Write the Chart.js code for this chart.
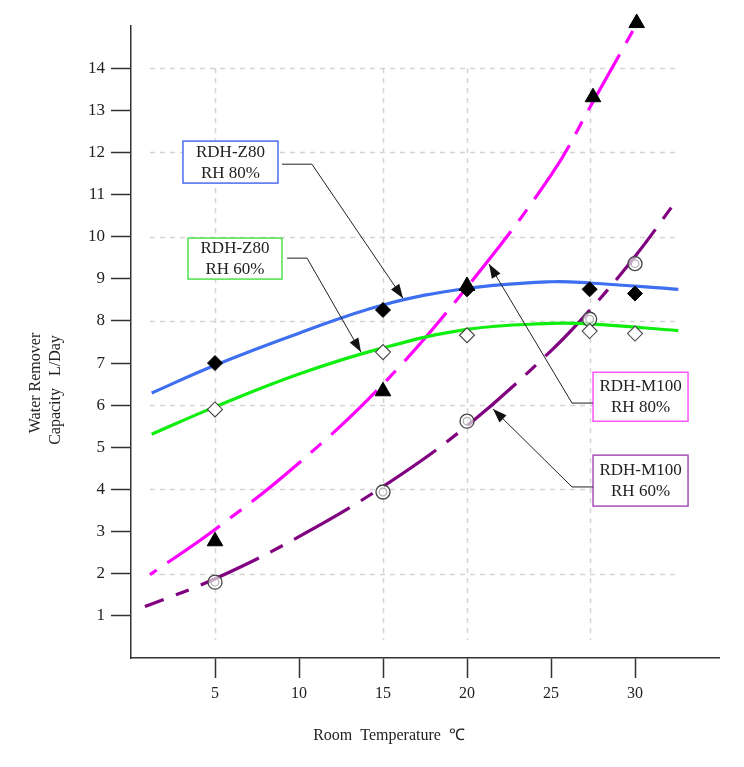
<!DOCTYPE html>
<html>
<head>
<meta charset="utf-8">
<script src="https://cdn.jsdelivr.net/npm/chart.js@4/dist/chart.umd.min.js"></script>
<style>
  html, body { margin: 0; padding: 0; background: #ffffff; }
</style>
</head>
<body>
<canvas id="chart" width="744" height="767"></canvas>
<script>
// Measured points (room temperature °C -> capacity L/day)
const tempZ80 = [5, 15, 20, 27.3, 30];
const z80Rh80 = [7.0, 8.26, 8.75, 8.75, 8.65];
const z80Rh60 = [5.9, 7.26, 7.66, 7.76, 7.7];
const tempM100Rh80 = [5, 15, 20, 27.5, 30.1];
const m100Rh80 = [2.77, 6.33, 8.83, 13.31, 15.07];
const tempM100Rh60 = [5, 15, 20, 27.3, 30];
const m100Rh60 = [1.8, 3.94, 5.62, 8.04, 9.36];

// Fitted curves
const fitZ80Temp = [1.23, 5, 10, 15, 20, 25, 27.3, 32.58];
const fitZ80Rh80 = [6.29, 6.95, 7.71, 8.38, 8.77, 8.93, 8.9, 8.75];
const fitZ80Rh60 = [5.31, 5.96, 6.74, 7.36, 7.8, 7.94, 7.93, 7.77];
const fitM100Rh80Temp = [1.13, 5, 10, 15, 20, 25, 27.5, 30.06];
const fitM100Rh80 = [1.98, 3.05, 4.63, 6.5, 8.8, 11.46, 13.2, 15.02];
const fitM100Rh60Temp = [0.83, 5, 10, 15, 20, 25, 27.3, 30, 32.34];
const fitM100Rh60 = [1.22, 1.88, 2.88, 4.07, 5.51, 7.29, 8.25, 9.53, 10.79];

// Dashed reference grid
const gridTemps = [5, 15, 20, 27.3];
const gridCaps = [2, 4, 6, 8, 10, 12, 14];

const FONT = '"Liberation Serif", "Times New Roman", serif';

const toXY = (xs, ys) => xs.map((x, i) => ({ x: x, y: ys[i] }));

// Callout boxes (positions in data units)
const callouts = [
    { lines: ['RDH-Z80', 'RH 80%'], color: '#4a6cf0', at: [5.92, 11.77], w: 95, h: 42,
      path: [[8.99, 11.72], [10.77, 11.72], [16.19, 8.54]] },
    { lines: ['RDH-Z80', 'RH 60%'], color: '#4fe04f', at: [6.19, 9.48], w: 94, h: 41,
      path: [[9.29, 9.49], [10.48, 9.49], [13.69, 7.26]] },
    { lines: ['RDH-M100', 'RH 80%'], color: '#ff55ff', at: [30.33, 6.2], w: 95, h: 49,
      path: [[27.5, 6.05], [26.25, 6.05], [21.31, 9.35]] },
    { lines: ['RDH-M100', 'RH 60%'], color: '#a64fb8', at: [30.33, 4.21], w: 95, h: 51,
      path: [[27.5, 4.06], [26.25, 4.06], [21.55, 5.91]] }
];

const gridPlugin = {
    id: 'refGrid',
    beforeDatasetsDraw(chart) {
        const { ctx, scales: { x, y } } = chart;
        ctx.save();
        ctx.strokeStyle = '#d4d4d4';
        ctx.lineWidth = 1.5;
        ctx.setLineDash([5, 5]);
        gridCaps.forEach(v => {
            const py = Math.round(y.getPixelForValue(v)) + 0.5;
            ctx.beginPath();
            ctx.moveTo(x.getPixelForValue(1.13), py);
            ctx.lineTo(x.getPixelForValue(32.6), py);
            ctx.stroke();
        });
        gridTemps.forEach(v => {
            const px = Math.round(x.getPixelForValue(v)) + 0.5;
            ctx.beginPath();
            ctx.moveTo(px, y.getPixelForValue(14));
            ctx.lineTo(px, y.getPixelForValue(0.43));
            ctx.stroke();
        });
        ctx.restore();
    }
};

const decorPlugin = {
    id: 'decor',
    afterDraw(chart) {
        const { ctx, scales: { x, y } } = chart;
        ctx.save();
        ctx.fillStyle = '#222';
        ctx.font = '16px ' + FONT;
        ctx.textAlign = 'center';
        ctx.textBaseline = 'middle';

        // axis titles
        ctx.fillText('Room  Temperature  \u2103', 389, 736);
        ctx.save();
        ctx.translate(36, 383);
        ctx.rotate(-Math.PI / 2);
        ctx.fillText('Water Remover', 0, 0);
        ctx.restore();
        ctx.save();
        ctx.translate(56, 390);
        ctx.rotate(-Math.PI / 2);
        ctx.fillText('Capacity   L/Day', 0, 0);
        ctx.restore();

        // callouts
        callouts.forEach(c => {
            const cx = x.getPixelForValue(c.at[0]);
            const cy = y.getPixelForValue(c.at[1]);
            ctx.fillStyle = '#ffffff';
            ctx.fillRect(cx - c.w / 2, cy - c.h / 2, c.w, c.h);
            ctx.strokeStyle = c.color;
            ctx.lineWidth = 1.5;
            ctx.strokeRect(cx - c.w / 2, cy - c.h / 2, c.w, c.h);
            ctx.fillStyle = '#222';
            ctx.font = '17px ' + FONT;
            ctx.fillText(c.lines[0], cx, cy - 10);
            ctx.fillText(c.lines[1], cx, cy + 11);

            const pts = c.path.map(p => [x.getPixelForValue(p[0]), y.getPixelForValue(p[1])]);
            ctx.strokeStyle = '#222';
            ctx.lineWidth = 1;
            ctx.beginPath();
            ctx.moveTo(pts[0][0], pts[0][1]);
            for (let i = 1; i < pts.length; i++) ctx.lineTo(pts[i][0], pts[i][1]);
            ctx.stroke();

            // arrow head
            const [tx, ty] = pts[pts.length - 1];
            const [sx, sy] = pts[pts.length - 2];
            const ang = Math.atan2(ty - sy, tx - sx);
            const len = 14, half = 5;
            ctx.fillStyle = '#111';
            ctx.beginPath();
            ctx.moveTo(tx, ty);
            ctx.lineTo(tx - len * Math.cos(ang) + half * Math.sin(ang), ty - len * Math.sin(ang) - half * Math.cos(ang));
            ctx.lineTo(tx - len * Math.cos(ang) - half * Math.sin(ang), ty - len * Math.sin(ang) + half * Math.cos(ang));
            ctx.closePath();
            ctx.fill();
        });
        ctx.restore();
    }
};

const curve = (xs, ys, color, dash, dashOffset) => ({
    data: toXY(xs, ys),
    showLine: true,
    borderColor: color,
    borderWidth: 3.2,
    borderDash: dash || [],
    borderDashOffset: dashOffset || 0,
    pointRadius: 0,
    tension: 0.4,
    clip: false,
    order: 2
});

const markers = (xs, ys, style, radius, fill, stroke, width) => ({
    data: toXY(xs, ys),
    pointStyle: style,
    pointRadius: radius,
    pointBackgroundColor: fill,
    pointBorderColor: stroke,
    pointBorderWidth: width,
    clip: false,
    order: 1
});

const tickFilter = (lo, hi) => scale => {
    scale.ticks = scale.ticks.filter(t => t.value >= lo && t.value <= hi);
};

new Chart(document.getElementById('chart'), {
    type: 'scatter',
    data: {
        datasets: [
            curve(fitZ80Temp, fitZ80Rh80, '#3d6ff0'),
            curve(fitZ80Temp, fitZ80Rh60, '#10ee10'),
            curve(fitM100Rh80Temp, fitM100Rh80, '#ff00ff', [64, 13, 14, 13], 83),
            curve(fitM100Rh60Temp, fitM100Rh60, '#800080', [64, 13, 14, 13], 44),
            markers(tempZ80, z80Rh80, 'rectRot', 7.5, '#000', '#000', 1),
            markers(tempZ80, z80Rh60, 'rectRot', 7.5, '#fff', '#444', 1.1),
            markers(tempM100Rh80, m100Rh80, 'triangle', 9, '#000', '#000', 1),
            markers(tempM100Rh60, m100Rh60, 'circle', 7, 'rgba(255,255,255,0.6)', '#444', 1.3),
            markers(tempM100Rh60, m100Rh60, 'circle', 3.8, 'rgba(0,0,0,0)', '#444', 1.3)
        ]
    },
    options: {
        responsive: false,
        animation: false,
        devicePixelRatio: 1,
        layout: { padding: { top: 26, right: 25, left: 0, bottom: 0 } },
        plugins: {
            legend: { display: false },
            tooltip: { enabled: false }
        },
        scales: {
            x: {
                type: 'linear',
                min: 0,
                max: 35,
                afterBuildTicks: tickFilter(5, 30),
                afterFit: scale => { scale.height = 109; },
                ticks: { stepSize: 5, color: '#222', padding: 6, font: { family: FONT, size: 16 } },
                grid: { drawOnChartArea: false, drawTicks: true, tickLength: 20, tickColor: '#333', tickWidth: 1.5 },
                border: { color: '#333', width: 1.5 }
            },
            y: {
                min: 0,
                max: 15,
                afterBuildTicks: tickFilter(1, 14),
                afterFit: scale => { scale.width = 131; },
                ticks: { stepSize: 1, color: '#222', padding: 6, font: { family: FONT, size: 17 } },
                grid: { drawOnChartArea: false, drawTicks: true, tickLength: 20, tickColor: '#333', tickWidth: 1.5 },
                border: { color: '#333', width: 1.5 }
            }
        }
    },
    plugins: [gridPlugin, decorPlugin]
});
</script>
</body>
</html>
